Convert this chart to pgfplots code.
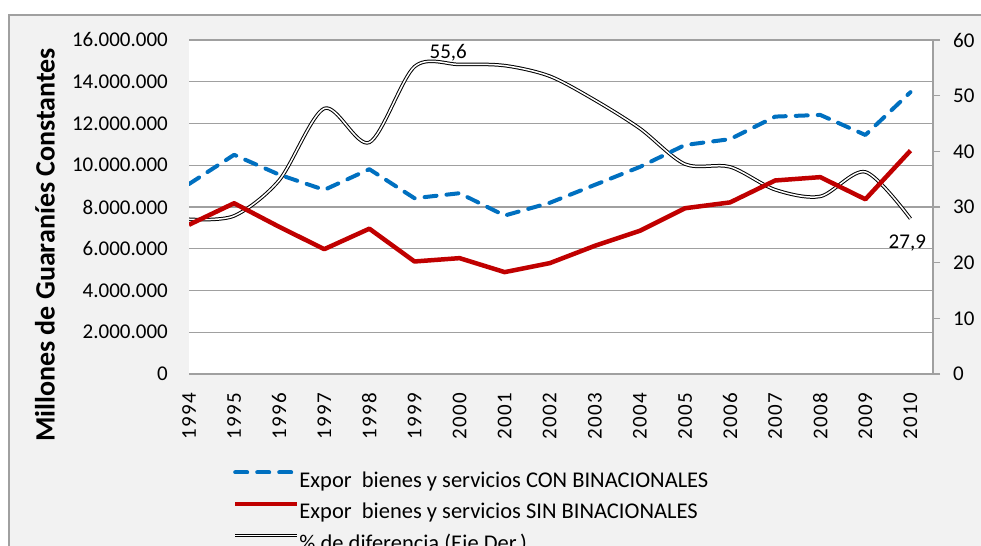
\documentclass[border=0pt]{standalone}
\usepackage{pgfplots}
\pgfplotsset{compat=1.18}
\usepackage{fontspec}
\setmainfont{Carlito}
\definecolor{bgc}{HTML}{F2F2F2}
\definecolor{gridc}{HTML}{A0A0A0}
\definecolor{bluec}{HTML}{0070C0}
\definecolor{redc}{HTML}{C00000}
\definecolor{borderc}{HTML}{A0A0A0}
\newcommand{\chfont}{\fontsize{21bp}{24bp}\selectfont}
\newcommand{\yrfont}{\fontsize{21bp}{24bp}\selectfont\addfontfeatures{LetterSpace=6}}
\newcommand{\lgfont}{\fontsize{22.5bp}{27bp}\selectfont}
\pgfplotsset{common/.style={at={(189bp,172bp)}, anchor=south west, scale only axis,
  width=744bp, height=334bp, xmin=0, xmax=16.5, scaled y ticks=false,
  tick label style={font=\chfont}}}
\begin{document}
\begin{tikzpicture}[x=1bp,y=1bp]
\useasboundingbox (0,0) rectangle (981,546);
\clip (0,0) rectangle (981,546);
\fill[white] (0,0) rectangle (981,546);
\fill[bgc] (9,0) rectangle (981,531);
\draw[borderc, line width=1.5bp] (9,0) -- (9,531) -- (981,531);
\node[rotate=90, font=\fontsize{28bp}{32bp}\selectfont\bfseries] at (45,301) {Millones de Guaraníes Constantes};
% axis 1: grid and labels
\begin{axis}[common, ymin=0, ymax=16000000,
  ytick={0,2000000,4000000,6000000,8000000,10000000,12000000,14000000,16000000},
  yticklabels={0,2.000.000,4.000.000,6.000.000,8.000.000,10.000.000,12.000.000,14.000.000,16.000.000},
  ymajorgrids, grid style={gridc, line width=1.3bp},
  axis line style={draw=none}, major tick length=0pt,
  xtick={0,1,2,3,4,5,6,7,8,9,10,11,12,13,14,15,16},
  xticklabels={1994,1995,1996,1997,1998,1999,2000,2001,2002,2003,2004,2005,2006,2007,2008,2009,2010},
  xticklabel style={rotate=90, anchor=east, inner sep=0pt, font=\yrfont}, xticklabel shift=19bp,
  yticklabel style={anchor=east, inner sep=0pt}, yticklabel shift=21bp,
  axis background/.style={fill=white}]
\end{axis}
% axis 2: percentage on right
\begin{axis}[common, ymin=0, ymax=60, axis x line=none, axis y line*=right,
  /pgf/number format/assume math mode=true,
  axis line style={-}, y axis line style={gridc, line width=1.3bp},
  ytick={0,10,20,30,40,50,60}, ytick style={gridc, line width=1.3bp},
  tick align=outside, major tick length=7bp,
  yticklabel style={anchor=west, inner sep=0pt}, yticklabel shift=13bp]
\addplot[black, line width=1bp, double=white, double distance=1.5bp, smooth, tension=0.5] coordinates {
(0,27.8) (1,28.4) (2,34.8) (3,47.7) (4,41.6) (5,55.2) (6,55.6) (7,55.4) (8,53.5)
(9,49.2) (10,44.1) (11,37.7) (12,37.2) (13,33.1) (14,31.9) (15,36.3) (16,27.9)};
\node[anchor=base, font=\chfont, inner sep=0pt] at (axis cs:5.75,56.6) {55,6};
\node[anchor=base, font=\chfont, inner sep=0pt] at (axis cs:15.93,22.6) {27,9};
\end{axis}
% axis 3: the two export series and the legend
\begin{axis}[common, ymin=0, ymax=16000000, hide axis,
  legend style={at={(rel axis cs:0.0591,-0.2747)}, anchor=north west, draw=none, fill=none,
    inner sep=0pt, outer sep=0pt, row sep=0pt, font=\lgfont,
    nodes={inner xsep=0pt, inner ysep=4.5bp, text height=17bp, text depth=5.5bp},
    /tikz/every odd column/.append style={column sep=0bp}},
  legend cell align=left,
  legend image code/.code={\draw[#1] (0bp,9bp) -- (62bp,9bp);}]
\addplot[bluec, line width=4bp, line cap=round, line join=round, dash pattern=on 12bp off 10bp] coordinates {
(0,9100000) (1,10500000) (2,9550000) (3,8820000) (4,9810000) (5,8420000) (6,8660000) (7,7590000) (8,8200000)
(9,9060000) (10,9920000) (11,10970000) (12,11250000) (13,12330000) (14,12410000) (15,11450000) (16,13500000)};
\addlegendentry{Expor\ \ bienes y servicios CON BINACIONALES}
\addplot[redc, line width=4.5bp, line join=round] coordinates {
(0,7150000) (1,8180000) (2,7050000) (3,5980000) (4,6960000) (5,5390000) (6,5550000) (7,4880000) (8,5310000)
(9,6140000) (10,6860000) (11,7940000) (12,8220000) (13,9270000) (14,9430000) (15,8370000) (16,10700000)};
\addlegendentry{Expor\ \ bienes y servicios SIN BINACIONALES}
\addlegendimage{black, line width=1bp, double=white, double distance=1.5bp}
\addlegendentry{\% de diferencia (Eje Der.)}
\end{axis}
\end{tikzpicture}
\end{document}
